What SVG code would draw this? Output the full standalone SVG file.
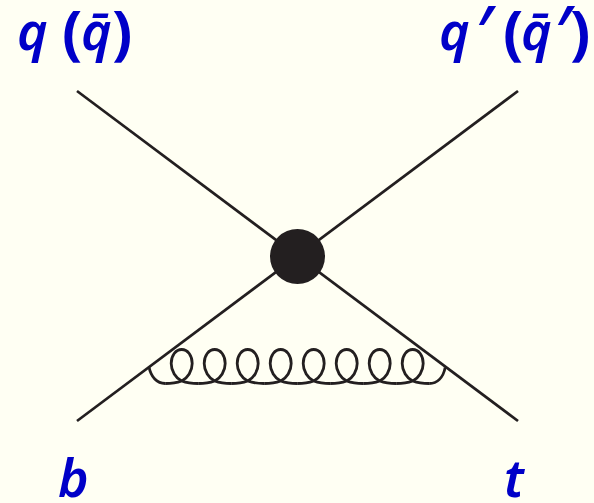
<svg xmlns="http://www.w3.org/2000/svg" width="594" height="503" viewBox="0 0 594 503">
<style>
.l{fill:none;stroke:#231f20;stroke-width:2.7;stroke-linecap:butt}
.g{fill:none;stroke:#231f20;stroke-width:2.8}
text{font-family:"Noto Sans","Open Sans","DejaVu Sans",sans-serif;font-size:52px;font-weight:600;font-style:italic;fill:#0000c8}
.u{font-style:normal;font-weight:700;font-size:60px}
.p{font-size:72px;font-weight:500}
</style>
<defs>
<path id="coil" d="M0,0c5,0 11.500,-0.700 16.500,-2.500c6,-3 10.500,-10 10.500,-17.500c0,-8 -4.500,-14 -10.500,-14c-6,0 -10.500,6 -10.500,14c0,7.500 4.500,14.500 10.500,17.500c5,1.800 11.500,2.500 16.500,2.500" class="g"/>
</defs>
<rect id="bg" width="594" height="503" fill="#fffff3"/>
<g id="connectors">
<path class="l" d="M77,91L518,421"/>
<path class="l" d="M518,91L77,421"/>
<g id="gluon">
<path class="g" d="M149,367c2,10 8,16.500 16.200,16.500"/>
<use href="#coil" x="165.200" y="383.500"/>
<use href="#coil" x="198.200" y="383.500"/>
<use href="#coil" x="231.200" y="383.500"/>
<use href="#coil" x="264.200" y="383.500"/>
<use href="#coil" x="297.200" y="383.500"/>
<use href="#coil" x="330.200" y="383.500"/>
<use href="#coil" x="363.200" y="383.500"/>
<use href="#coil" x="396.200" y="383.500"/>
<path class="g" d="M429.200,383.500c8,0 14,-6 16,-16"/>
</g>
</g>
<g id="vertex"><circle cx="297.500" cy="256.500" r="27.500" fill="#231f20"/></g>
<g id="label-q"><text y="50"><tspan x="17">q</tspan> <tspan class="u" x="62" dy="3">(</tspan><tspan x="81" dy="-3">q̄</tspan><tspan class="u" x="112" dy="3">)</tspan></text></g>
<g id="label-qp"><text y="50"><tspan x="439">q</tspan><tspan class="p" x="474" dy="8">′</tspan> <tspan class="u" x="503" dy="-5">(</tspan><tspan x="521" dy="-3">q̄</tspan><tspan class="p" x="553" dy="8">′</tspan><tspan class="u" x="570" dy="-5">)</tspan></text></g>
<g id="label-b"><text x="58" y="497">b</text></g>
<g id="label-t"><text x="504" y="497">t</text></g>
</svg>
